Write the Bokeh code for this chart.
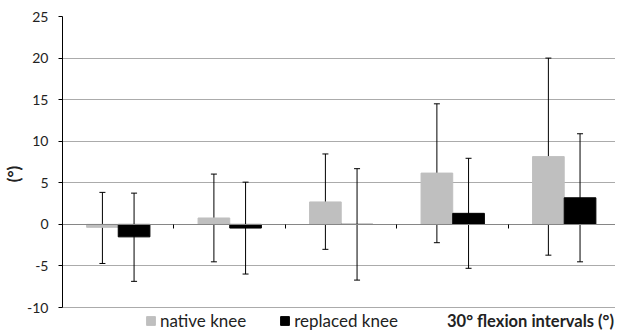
from bokeh.plotting import figure
from bokeh.models import (ColumnDataSource, Whisker, Range1d, Legend, LegendItem,
                          FixedTicker)
from bokeh.embed import file_html
from bokeh.resources import INLINE

categories = ["0-30", "30-60", "60-90", "90-120", "120-150"]
native_mean = [-0.35, 0.77, 2.7, 6.17, 8.15]
native_upper = [3.85, 6.05, 8.47, 14.5, 20.0]
native_lower = [-4.7, -4.5, -3.0, -2.2, -3.7]
replaced_mean = [-1.5, -0.44, 0.0, 1.33, 3.2]
replaced_upper = [3.76, 5.08, 6.7, 7.95, 10.9]
replaced_lower = [-6.85, -5.97, -6.7, -5.28, -4.5]
y_ticks = [-10, -5, 0, 5, 10, 15, 20, 25]
x_title = "30° flexion intervals (°)"

FONT = "Lato"
n = len(categories)
bw = 0.284
xs_native = [i + 0.5 - bw / 2 for i in range(n)]
xs_repl = [i + 0.5 + bw / 2 for i in range(n)]

src_n = ColumnDataSource(dict(x=xs_native, top=native_mean, up=native_upper, lo=native_lower))
src_r = ColumnDataSource(dict(x=xs_repl, top=replaced_mean, up=replaced_upper, lo=replaced_lower))

# the frame extends below -10 to host the legend row; axis/grid are bounded to -10..25
p = figure(width=615, height=331, output_backend="svg", toolbar_location=None,
           x_range=Range1d(0, 4.96), y_range=Range1d(-12.88, 25),
           min_border_left=56, min_border_right=0, min_border_top=16, min_border_bottom=0)
p.outline_line_color = None
p.background_fill_color = "white"
p.border_fill_color = "white"

rn = p.vbar(x="x", top="top", bottom=0, width=bw, source=src_n, color="#bfbfbf")
rr = p.vbar(x="x", top="top", bottom=0, width=bw, source=src_r, color="#000000")
rt = p.scatter(x=[0], y=[0], size=0, alpha=0)

for s in (src_n, src_r):
    w = Whisker(base="x", upper="up", lower="lo", source=s, line_color="black", line_width=1)
    w.upper_head.size = 6
    w.lower_head.size = 6
    w.upper_head.line_color = "black"
    w.lower_head.line_color = "black"
    p.add_layout(w)

# y axis
p.yaxis.bounds = (y_ticks[0], y_ticks[-1])
p.yaxis.ticker = FixedTicker(ticks=y_ticks)
p.yaxis.major_label_overrides = {t: str(t) for t in y_ticks}
p.yaxis.axis_line_color = "black"
p.yaxis.major_tick_line_color = "black"
p.yaxis.major_tick_out = 4
p.yaxis.major_tick_in = 0
p.yaxis.minor_tick_line_color = None
p.yaxis.major_label_text_font = FONT
p.yaxis.major_label_text_font_size = "14px"
p.yaxis.major_label_text_color = "#222222"
p.yaxis.major_label_standoff = 10
p.yaxis.axis_label = "(°)"
p.yaxis.axis_label_text_font = FONT
p.yaxis.axis_label_text_font_size = "17px"
p.yaxis.axis_label_text_font_style = "bold"
p.yaxis.axis_label_text_color = "#222222"
p.yaxis.axis_label_standoff = 0

p.ygrid.ticker = FixedTicker(ticks=y_ticks)
p.ygrid.grid_line_color = "#ababab"
p.xgrid.grid_line_color = None

# x axis at zero with category boundary ticks
p.xaxis.fixed_location = 0
p.xaxis.ticker = FixedTicker(ticks=list(range(1, n)))
p.xaxis.axis_line_color = "#868686"
p.xaxis.major_tick_line_color = "black"
p.xaxis.major_tick_out = 4
p.xaxis.major_tick_in = 0
p.xaxis.minor_tick_line_color = None
p.xaxis.major_label_standoff = 0
p.xaxis.major_label_text_font_size = "0px"
p.xaxis.major_label_text_color = None

legend = Legend(items=[LegendItem(label="native knee", renderers=[rn]),
                       LegendItem(label="replaced knee", renderers=[rr])],
                orientation="horizontal", location=(83, 0),
                label_text_font=FONT, label_text_font_size="17px",
                label_text_color="#222222", label_height=14,
                glyph_width=11, glyph_height=11, spacing=33, padding=0, margin=0,
                label_standoff=4, border_line_color=None, background_fill_alpha=0)
p.add_layout(legend, "center")

title_leg = Legend(items=[LegendItem(label=x_title, renderers=[rt])],
                   orientation="horizontal", location=(385, 0),
                   label_text_font=FONT, label_text_font_size="16.5px",
                   label_text_font_style="bold", label_text_color="#222222",
                   label_height=14,
                   glyph_width=0, glyph_height=11, padding=0, margin=0,
                   label_standoff=0, border_line_color=None, background_fill_alpha=0)
p.add_layout(title_leg, "center")

open("out.html", "w").write(file_html(p, INLINE))
